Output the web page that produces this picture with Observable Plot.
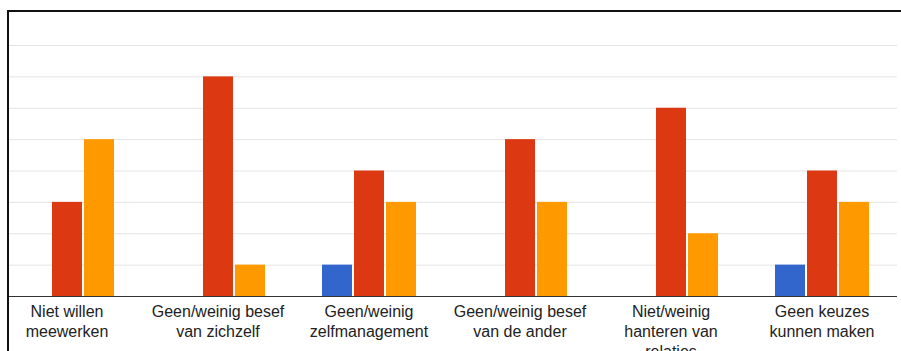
<!DOCTYPE html>
<html>
<head>
<meta charset="utf-8">
<script src="https://cdn.jsdelivr.net/npm/d3@7"></script>
<script src="https://cdn.jsdelivr.net/npm/@observablehq/plot@0.6"></script>
<style>
  html, body { margin: 0; padding: 0; background: #fff; }
  #wrap { position: relative; width: 901px; height: 351px; overflow: hidden; background: #fff; }
  #clip { position: absolute; left: 9px; top: 0; width: 892px; height: 351px; overflow: hidden; }
  #clip svg { margin-left: -9px; display: block; max-width: none !important; width: 901px; height: 351px; }
  #border { position: absolute; left: 7px; top: 10px; width: 900px; height: 345px;
            border-top: 2px solid #111; border-left: 2px solid #111; box-sizing: border-box; pointer-events: none; }
</style>
</head>
<body>
<div id="wrap"><div id="clip"></div><div id="border"></div></div>
<script>
const categories = [
  "Niet willen meewerken",
  "Geen/weinig besef van zichzelf",
  "Geen/weinig zelfmanagement",
  "Geen/weinig besef van de ander",
  "Niet/weinig hanteren van relaties",
  "Geen keuzes kunnen maken"
];
const categoryLabels = [
  "Niet willen\nmeewerken",
  "Geen/weinig besef\nvan zichzelf",
  "Geen/weinig\nzelfmanagement",
  "Geen/weinig besef\nvan de ander",
  "Niet/weinig\nhanteren van\nrelaties",
  "Geen keuzes\nkunnen maken"
];
const seriesNames = ["Reeks 1", "Reeks 2", "Reeks 3"];
const seriesColors = ["#3366cc", "#dc3912", "#ff9900"];
const blueValues = [0, 0, 1, 0, 0, 1];
const redValues = [3, 7, 4, 5, 6, 4];
const orangeValues = [5, 1, 3, 3, 2, 3];
const yGridTicks = [1, 2, 3, 4, 5, 6, 7, 8];

const seriesValues = [blueValues, redValues, orangeValues];
const data = categories.flatMap((c, i) =>
  seriesNames.map((s, j) => ({category: c, series: s, value: seriesValues[j][i]}))
);
const labelMap = new Map(categories.map((c, i) => [c, categoryLabels[i]]));

const chart = Plot.plot({
  width: 901,
  height: 351,
  marginLeft: -9,
  marginRight: 4,
  marginTop: 45,
  marginBottom: 55,
  style: {fontFamily: "'Liberation Sans', Arial, sans-serif", fontSize: "16px", color: "#222", background: "transparent"},
  fx: {domain: categories, padding: 0, label: null},
  x: {domain: seriesNames, paddingInner: 0.0625, paddingOuter: 0.89, axis: null},
  y: {domain: [0, 8], axis: null},
  color: {domain: seriesNames, range: seriesColors},
  marks: [
    Plot.ruleY(yGridTicks, {stroke: "#e4e4e4", strokeWidth: 1}),
    Plot.barY(data, {fx: "category", x: "series", y: "value", fill: "series"}),
    Plot.ruleY([0], {stroke: "#333", strokeWidth: 1}),
    Plot.axisFx({anchor: "bottom", tickSize: 0, tickPadding: 6, fontSize: 16, lineHeight: 1.25,
                 tickFormat: d => labelMap.get(d), label: null, fill: "#222"})
  ]
});
document.getElementById("clip").appendChild(chart);
</script>
</body>
</html>
